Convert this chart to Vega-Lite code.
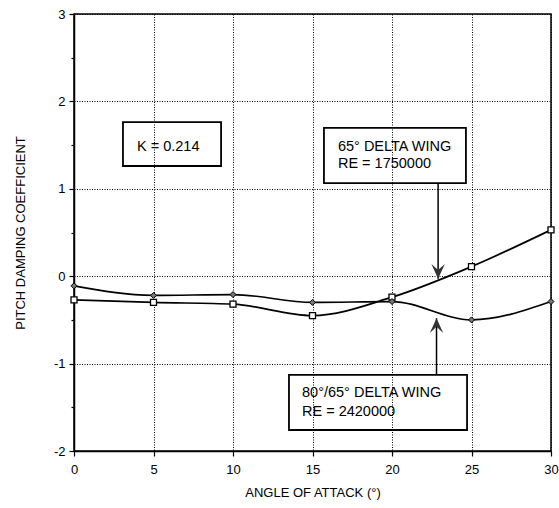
{
  "$schema": "https://vega.github.io/schema/vega-lite/v6.json",
  "width": 477,
  "height": 437,
  "autosize": {"type": "none"},
  "padding": {"left": 74, "top": 14, "right": 8, "bottom": 57},
  "background": "white",
  "config": {
    "font": "Liberation Sans",
    "view": {"stroke": "black", "strokeWidth": 1.5},
    "axis": {
      "domainColor": "black",
      "domainWidth": 1.5,
      "tickColor": "black",
      "tickWidth": 1.2,
      "labelColor": "black",
      "titleColor": "black",
      "gridColor": "black",
      "gridDash": [1, 1.5],
      "gridWidth": 1,
      "labelFontSize": 13,
      "titleFontSize": 13,
      "titleFontWeight": "normal",
      "labelOverlap": false,
      "labelFlush": false
    }
  },
  "datasets": {
    "series": [
      {"angle": 0, "coef": -0.27, "wing": "65° DELTA WING"},
      {"angle": 5, "coef": -0.30, "wing": "65° DELTA WING"},
      {"angle": 10, "coef": -0.32, "wing": "65° DELTA WING"},
      {"angle": 15, "coef": -0.45, "wing": "65° DELTA WING"},
      {"angle": 20, "coef": -0.24, "wing": "65° DELTA WING"},
      {"angle": 25, "coef": 0.11, "wing": "65° DELTA WING"},
      {"angle": 30, "coef": 0.53, "wing": "65° DELTA WING"},
      {"angle": 0, "coef": -0.11, "wing": "80°/65° DELTA WING"},
      {"angle": 5, "coef": -0.22, "wing": "80°/65° DELTA WING"},
      {"angle": 10, "coef": -0.21, "wing": "80°/65° DELTA WING"},
      {"angle": 15, "coef": -0.30, "wing": "80°/65° DELTA WING"},
      {"angle": 20, "coef": -0.29, "wing": "80°/65° DELTA WING"},
      {"angle": 25, "coef": -0.50, "wing": "80°/65° DELTA WING"},
      {"angle": 30, "coef": -0.29, "wing": "80°/65° DELTA WING"}
    ],
    "boxes": [
      {"x": 3.08, "x2": 9.25, "y": 1.764, "y2": 1.261},
      {"x": 15.72, "x2": 24.65, "y": 1.696, "y2": 1.066},
      {"x": 13.52, "x2": 24.72, "y": -1.13, "y2": -1.76}
    ],
    "notes": [
      {"x": 3.96, "y": 1.478, "text": "K = 0.214"},
      {"x": 16.6, "y": 1.478, "text": "65° DELTA WING"},
      {"x": 16.6, "y": 1.284, "text": "RE = 1750000"},
      {"x": 14.34, "y": -1.336, "text": "80°/65° DELTA WING"},
      {"x": 14.34, "y": -1.554, "text": "RE = 2420000"}
    ],
    "arrows": [
      {"x": 22.9, "from": 1.066, "to": -0.03, "dir": "down"},
      {"x": 22.8, "from": -1.13, "to": -0.48, "dir": "up"}
    ]
  },
  "layer": [
    {
      "data": {"name": "series"},
      "mark": {"type": "line", "interpolate": "monotone", "color": "black", "strokeWidth": 1.7},
      "encoding": {
        "x": {
          "field": "angle", "type": "quantitative",
          "scale": {"domain": [0, 30], "nice": false, "zero": false},
          "axis": {
            "values": [0, 2.5, 5, 7.5, 10, 12.5, 15, 17.5, 20, 22.5, 25, 27.5, 30],
            "tickSize": {"condition": {"test": "datum.value % 5 === 0", "value": 5}, "value": 3},
            "gridOpacity": {"condition": {"test": "datum.value % 5 === 0", "value": 1}, "value": 0},
            "labelExpr": "datum.value % 5 === 0 ? toString(datum.value) : ''",
            "labelPadding": 7,
            "title": "ANGLE OF ATTACK (°)",
            "titlePadding": 10
          }
        },
        "y": {
          "field": "coef", "type": "quantitative",
          "scale": {"domain": [-2, 3], "nice": false, "zero": false},
          "axis": {
            "values": [-2, -1.5, -1, -0.5, 0, 0.5, 1, 1.5, 2, 2.5, 3],
            "tickSize": {"condition": {"test": "datum.value % 1 === 0", "value": 5}, "value": 3},
            "gridOpacity": {"condition": {"test": "datum.value % 1 === 0", "value": 1}, "value": 0},
            "labelExpr": "datum.value % 1 === 0 ? toString(datum.value) : ''",
            "labelPadding": 4,
            "title": "PITCH DAMPING COEFFICIENT",
            "titlePadding": 26
          }
        },
        "detail": {"field": "wing", "type": "nominal"}
      }
    },
    {
      "data": {"name": "series"},
      "transform": [{"filter": "datum.wing === '65° DELTA WING'"}],
      "mark": {"type": "point", "shape": "square", "size": 36, "filled": false, "fill": "white", "fillOpacity": 1, "stroke": "black", "strokeWidth": 1.3},
      "encoding": {
        "x": {"field": "angle", "type": "quantitative"},
        "y": {"field": "coef", "type": "quantitative"}
      }
    },
    {
      "data": {"name": "series"},
      "transform": [{"filter": "datum.wing !== '65° DELTA WING'"}],
      "mark": {"type": "point", "shape": "diamond", "size": 36, "filled": true, "fill": "#777777", "fillOpacity": 1, "stroke": "black", "strokeWidth": 1},
      "encoding": {
        "x": {"field": "angle", "type": "quantitative"},
        "y": {"field": "coef", "type": "quantitative"}
      }
    },
    {
      "data": {"name": "boxes"},
      "mark": {"type": "rect", "fillOpacity": 0, "stroke": "black", "strokeWidth": 1.8},
      "encoding": {
        "x": {"field": "x", "type": "quantitative"},
        "x2": {"field": "x2"},
        "y": {"field": "y", "type": "quantitative"},
        "y2": {"field": "y2"}
      }
    },
    {
      "data": {"name": "notes"},
      "mark": {"type": "text", "align": "left", "baseline": "middle", "fontSize": 14.5, "color": "black", "font": "Liberation Sans"},
      "encoding": {
        "x": {"field": "x", "type": "quantitative"},
        "y": {"field": "y", "type": "quantitative"},
        "text": {"field": "text", "type": "nominal"}
      }
    },
    {
      "data": {"name": "arrows"},
      "mark": {"type": "rule", "color": "black", "strokeWidth": 1.5},
      "encoding": {
        "x": {"field": "x", "type": "quantitative"},
        "y": {"field": "from", "type": "quantitative"},
        "y2": {"field": "to"}
      }
    },
    {
      "data": {"name": "arrows"},
      "transform": [{"filter": "datum.dir === 'down'"}],
      "mark": {"type": "point", "shape": "M0,0L-1,-2.2L0,-1.3L1,-2.2Z", "size": 180, "filled": true, "color": "#333333", "opacity": 1},
      "encoding": {
        "x": {"field": "x", "type": "quantitative"},
        "y": {"field": "to", "type": "quantitative"}
      }
    },
    {
      "data": {"name": "arrows"},
      "transform": [{"filter": "datum.dir === 'up'"}],
      "mark": {"type": "point", "shape": "M0,0L-1,2.2L0,1.3L1,2.2Z", "size": 180, "filled": true, "color": "#333333", "opacity": 1},
      "encoding": {
        "x": {"field": "x", "type": "quantitative"},
        "y": {"field": "to", "type": "quantitative"}
      }
    }
  ]
}
